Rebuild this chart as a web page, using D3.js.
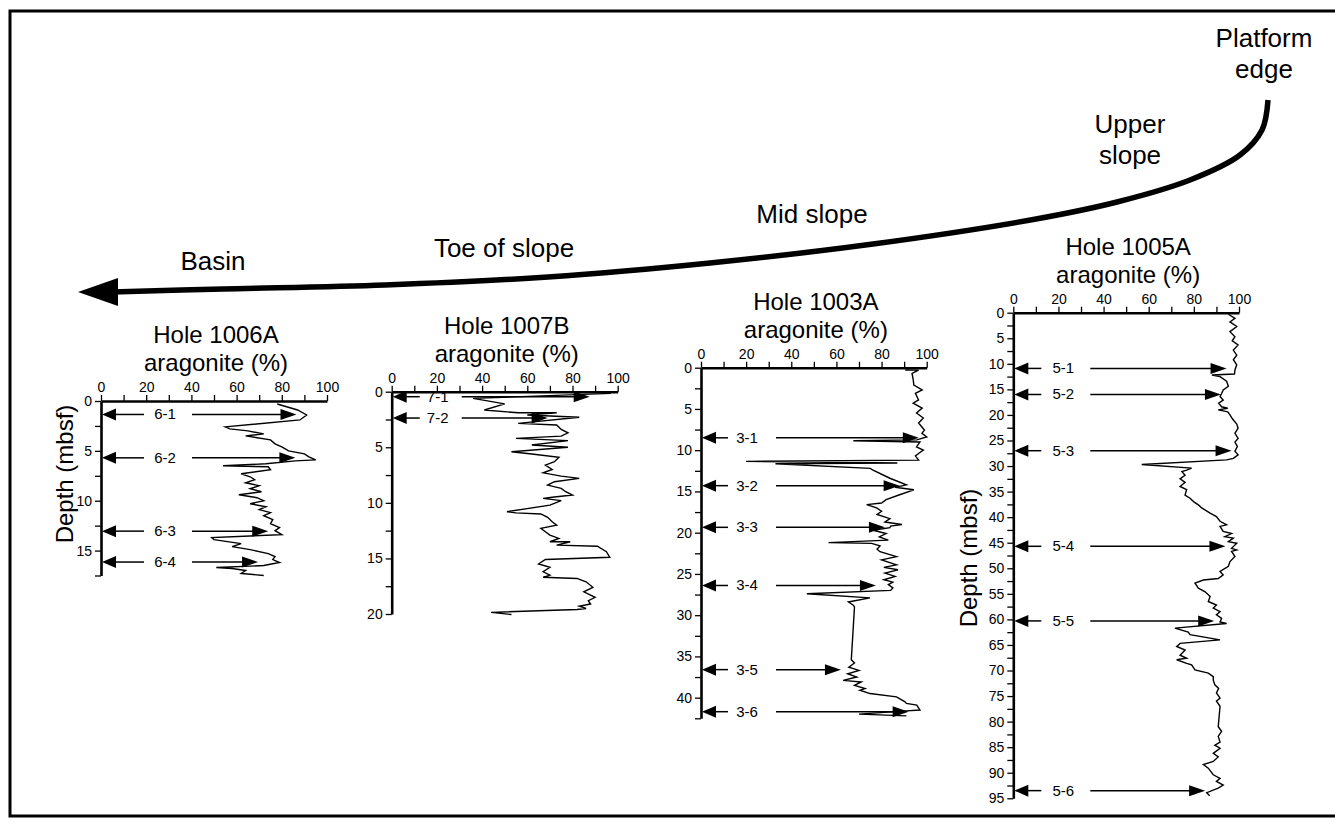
<!DOCTYPE html>
<html>
<head>
<meta charset="utf-8">
<script src="https://cdn.jsdelivr.net/npm/d3@7"></script>
<style>
  body { margin: 0; background: #fff; }
  svg { display: block; font-family: "Liberation Sans", Arial, Helvetica, sans-serif; }
</style>
</head>
<body>
<div id="chart"></div>
<script>
// each row: [depth (mbsf), aragonite (%)]
const hole1006A = [[0.3,78],[0.9,87],[1.4,91],[1.9,88],[2.6,55],[2.8,57],[3.0,65],[3.3,72],[3.5,64],[3.9,75],[4.3,77],[4.6,80],[5.0,83],[5.3,90],[5.6,92],[5.9,95],[6.0,86],[6.3,73],[6.5,54],[6.6,74],[6.9,75],[7.3,62],[7.6,66],[7.9,68],[8.2,64],[8.5,70],[8.8,66],[9.1,71],[9.4,61],[9.7,69],[10.0,72],[10.3,66],[10.6,73],[10.9,70],[11.2,75],[11.5,72],[11.9,76],[12.3,75],[12.7,79],[13.0,77],[13.4,80],[13.7,49],[13.9,50],[14.3,62],[14.6,58],[14.9,66],[15.3,74],[15.6,77],[15.9,76],[16.2,79],[16.5,72],[16.7,51],[16.8,58],[17.0,64],[17.3,62],[17.5,72]]

const hole1007B = [[0.15,97],[0.6,36],[1.1,50],[1.65,41],[1.9,56],[1.9,73],[2.1,60],[2.3,83],[2.85,56],[3.0,73],[3.4,75],[3.7,78],[4.0,75],[4.2,55],[4.4,78],[4.8,62],[5.0,78],[5.4,53],[5.6,62],[5.9,74],[6.3,72],[6.6,68],[7.0,71],[7.3,67],[7.6,75],[7.8,83],[8.1,72],[8.4,69],[8.7,75],[9.0,77],[9.3,80],[9.5,71],[9.6,67],[9.8,75],[10.2,70],[10.8,51],[10.9,55],[11.0,66],[11.3,69],[11.7,71],[12.0,73],[12.3,66],[12.6,68],[12.9,70],[13.2,74],[13.5,70],[13.5,79],[13.8,73],[13.9,91],[14.4,95],[14.9,96.5],[15.1,68],[15.5,65],[15.8,70],[16.2,67],[16.5,70],[16.7,67],[16.8,82],[17.1,86],[17.6,89],[18.0,85],[18.5,90],[18.8,87],[19.1,88],[19.3,83],[19.5,86],[19.6,82],[19.85,44],[20.05,53]]

const hole1003A = [[0.28,90.5],[0.3,96.4],[0.7,93.5],[1.4,94],[2.1,94.3],[2.7,98],[3.1,95],[3.9,96.4],[4.3,94],[4.9,98],[5.5,95.5],[6.1,98.5],[6.7,96.4],[7.55,99],[7.95,97.9],[8.4,100],[8.75,95.6],[8.85,67.5],[9.0,97],[9.6,95.5],[10.0,98.5],[10.4,96.4],[10.7,95],[11.2,96.4],[11.35,20],[11.55,87],[11.65,33],[12.2,75],[12.4,76],[13.4,83.7],[14.2,91],[14.5,86],[14.8,94.3],[15.4,88],[16.0,82],[16.4,80],[16.6,73.4],[17.0,77.8],[17.4,80],[17.8,78],[18.3,83.7],[18.7,81.5],[19.0,89],[19.2,84],[19.4,83.7],[19.7,76.3],[20.1,82],[20.5,79],[20.9,83],[21.2,56.5],[21.3,75.6],[21.6,79.3],[22.0,78],[22.3,79.3],[22.9,86.6],[23.3,80],[23.9,86.6],[24.2,81],[24.5,87.3],[24.9,81.5],[25.3,86],[25.7,81],[26.0,85],[26.3,83],[26.7,85],[27.0,84],[27.4,46.9],[27.9,74.9],[28.4,65.3],[28.8,67.5],[29.0,68],[35.4,66.6],[35.8,68],[36.3,65.5],[36.7,70],[37.1,65],[37.5,69],[37.9,63],[38.1,71],[38.5,68],[38.9,72.7],[39.1,70.4],[39.5,74.9],[39.9,86.6],[40.5,90.4],[40.7,91],[40.9,95.6],[41.5,97],[41.6,91],[42.0,70],[42.2,91]]

const hole1005A = [[0.3,95.3],[1.1,98.2],[1.8,96],[2.7,99],[3.7,96],[4.7,98.2],[5.5,97],[6.3,99.6],[7.3,97.5],[8.3,99],[9.2,97.5],[10.2,99],[11.2,98.2],[12.0,98],[12.2,88],[12.5,91.6],[13.4,94.5],[14.4,95.3],[15.1,93],[15.8,92.3],[16.4,91.6],[17.1,93],[17.7,91],[18.4,92.3],[18.7,95],[19.0,90.8],[19.4,95],[20.0,96],[20.7,97],[21.8,99],[22.6,99.6],[23.6,98.2],[24.6,99.6],[25.3,98.2],[26.2,99.3],[27.1,98.2],[27.8,99.6],[28.5,97.5],[28.8,94.5],[29.7,56.9],[30.4,79],[30.8,76.8],[31.1,74.7],[31.8,76.1],[32.5,73.9],[33.2,76.1],[34.0,73.9],[34.6,76.8],[35.7,76.1],[36.3,78.3],[37.0,80],[37.6,82],[38.2,83.5],[39.2,87.2],[39.9,90],[40.8,91.6],[41.5,94.5],[41.8,91.6],[42.8,93],[43.2,96.7],[43.8,93.7],[44.1,97.5],[44.8,95.3],[45.1,99],[46.1,96.7],[46.4,99],[46.7,96.7],[47.7,98.2],[48.7,96],[49.6,95.3],[50.6,91.6],[51.3,93],[52.0,90.8],[52.3,84.2],[52.9,80.5],[53.9,82],[54.6,85],[55.5,87.2],[56.5,86.4],[57.2,90],[57.8,88.6],[58.5,91.6],[59.1,90],[59.8,92.3],[60.5,91.6],[60.8,94.5],[61.7,71.6],[62.5,77.5],[63.0,78.3],[64.0,91.6],[64.7,73.9],[65.3,72.4],[66.0,76.1],[67.0,73.9],[67.6,76.8],[67.9,72.4],[68.6,76.8],[68.9,79],[69.9,80.5],[70.5,86.4],[71.2,88.6],[71.9,88.6],[72.8,89.3],[73.5,91],[74.4,90],[75.4,91.6],[76.0,90],[77.0,91.6],[81.0,90.8],[81.9,92.3],[82.9,90.8],[84.0,91.6],[84.6,89.3],[85.2,91.6],[86.2,88.6],[86.9,90.8],[87.8,88.6],[88.4,84.2],[89.1,86.4],[90.4,88.6],[91.1,91.6],[91.7,90],[92.4,93],[93.0,90.8],[93.9,85.7],[94.5,87]]

// sample markers: [label, depth, aragonite % the arrow points at]
const samples1006A = [["6-1",1.35,86.5],["6-2",5.7,86],["6-3",13.05,74],["6-4",16.15,69.5]]
const samples1007B = [["7-1",0.45,87.6],["7-2",2.37,69]]
const samples1003A = [["3-1",8.5,96.5],["3-2",14.3,88],["3-3",19.35,81.5],["3-4",26.4,77.5],["3-5",36.6,62],["3-6",41.7,92]]
const samples1005A = [["5-1",10.9,94.5],["5-2",16,92],["5-3",27,96.7],["5-4",45.7,94],["5-5",60.3,89],["5-6",93.5,85]]

const xTicks = d3.range(0, 101, 10)

// environment labels along the transect arrow
const zoneLabels = [["Platform",1264,47],["edge",1264,78],["Upper",1130,133],["slope",1130,164],["Mid slope",812,223],["Toe of slope",504,257],["Basin",213,270]]
const transectPath = [[1268,100],[1262,130],[1240,155],[1190,180],[1117,202],[1036,219],[873,244],[710,263],[548,277],[385,285],[223,289],[112,292]]

// panel layout (px)
const panels = [
  { hole: "Hole 1006A", data: hole1006A, samples: samples1006A, maxDepth: 17.5,
    x0: 101, x1: 327, y0: 401, y1: 575.5, tail: 43, txt: 64, start: 91, depthLabel: [73, 474] },
  { hole: "Hole 1007B", data: hole1007B, samples: samples1007B, maxDepth: 20,
    x0: 391.7, x1: 617.7, y0: 391.7, y1: 614, tail: 28, txt: 46, start: 70 },
  { hole: "Hole 1003A", data: hole1003A, samples: samples1003A, maxDepth: 42.5,
    x0: 701, x1: 926.7, y0: 367.7, y1: 718.3, tail: 27, txt: 46, start: 75 },
  { hole: "Hole 1005A", data: hole1005A, samples: samples1005A, maxDepth: 95,
    x0: 1013.3, x1: 1239, y0: 312.7, y1: 798.3, tail: 28, txt: 50, start: 77, depthLabel: [977, 558] }
]

const W = 1335, H = 828

const svg = d3.select('#chart')
  .append('svg')
    .attr('width', W)
    .attr('height', H)

// frame (right side runs off the page)
svg.append('rect')
  .attr('x', 10)
  .attr('y', 11)
  .attr('width', 1345)
  .attr('height', 805)
  .style('fill', 'none')
  .style('stroke', '#000')
  .style('stroke-width', 3)

// transect arrow
svg.append('path')
  .attr('d', d3.line().curve(d3.curveCatmullRom)(transectPath))
  .style('fill', 'none')
  .style('stroke', '#000')
  .style('stroke-width', 5.5)
svg.append('path')
  .attr('d', 'M78,292 L118,278 L118,306 Z')
  .style('fill', '#000')

svg.append('g')
  .selectAll('text')
  .data(zoneLabels)
  .enter()
  .append('text')
    .attr('x', d => d[1])
    .attr('y', d => d[2])
    .attr('text-anchor', 'middle')
    .style('font-size', '26px')
    .text(d => d[0])

function arrowHead(g, tipX, y, dir, len, half) {
  g.append('path')
    .attr('d', `M${tipX},${y} L${tipX - dir * len},${y - half} L${tipX - dir * len},${y + half} Z`)
    .style('fill', '#000')
}

panels.forEach(p => {
  const x = d3.scaleLinear().domain([0, 100]).range([p.x0, p.x1])
  const y = d3.scaleLinear().domain([0, p.maxDepth]).range([p.y0, p.y1])
  const g = svg.append('g')
  const mid = (p.x0 + p.x1) / 2 + 2

  g.append('text')
    .attr('x', mid).attr('y', p.y0 - 58)
    .attr('text-anchor', 'middle')
    .style('font-size', '24px')
    .text(p.hole)
  g.append('text')
    .attr('x', mid).attr('y', p.y0 - 30)
    .attr('text-anchor', 'middle')
    .style('font-size', '24px')
    .text('aragonite (%)')

  const xAxis = g.append('g')
    .attr('transform', `translate(0,${p.y0})`)
    .call(d3.axisTop(x).tickValues(xTicks).tickSize(6).tickSizeOuter(0).tickPadding(3)
      .tickFormat(d => d % 20 === 0 ? d : ''))
  const yAxis = g.append('g')
    .attr('transform', `translate(${p.x0},0)`)
    .call(d3.axisLeft(y).tickValues(d3.range(0, p.maxDepth + 0.01, 2.5)).tickSize(6).tickSizeOuter(0).tickPadding(3)
      .tickFormat(d => d % 5 === 0 ? d : ''))

  ;[xAxis, yAxis].forEach(a => {
    a.select('.domain').style('stroke-width', 2.6).attr('stroke', '#000')
    a.selectAll('.tick line').style('stroke-width', 1.3).attr('stroke', '#000')
    a.selectAll('.tick text').style('font-size', '14px').style('font-family', '"Liberation Sans", Arial, sans-serif').attr('fill', '#000')
  })

  // aragonite curve
  g.append('path')
    .datum(p.data)
    .attr('d', d3.line().x(d => x(d[1])).y(d => y(d[0])))
    .style('fill', 'none')
    .style('stroke', '#000')
    .style('stroke-width', 1.4)

  // sample arrows
  const s = g.selectAll('.sample')
    .data(p.samples)
    .enter()
    .append('g')
      .attr('class', 'sample')
  s.each(function (d) {
    const sg = d3.select(this)
    const yy = y(d[1])
    sg.append('line')
      .attr('x1', p.x0 + 12).attr('x2', p.x0 + p.tail)
      .attr('y1', yy).attr('y2', yy)
      .style('stroke', '#000').style('stroke-width', 1.5)
    arrowHead(sg, p.x0 + 1, yy, -1, 14, 6)
    sg.append('text')
      .attr('x', p.x0 + p.txt).attr('y', yy + 5)
      .attr('text-anchor', 'middle')
      .style('font-size', '15px')
      .text(d[0])
    sg.append('line')
      .attr('x1', p.x0 + p.start).attr('x2', x(d[2]) - 10)
      .attr('y1', yy).attr('y2', yy)
      .style('stroke', '#000').style('stroke-width', 1.5)
    arrowHead(sg, x(d[2]), yy, 1, 16, 5.5)
  })

  if (p.depthLabel) {
    g.append('text')
      .attr('transform', `translate(${p.depthLabel[0]},${p.depthLabel[1]}) rotate(-90)`)
      .attr('text-anchor', 'middle')
      .style('font-size', '24px')
      .text('Depth (mbsf)')
  }
})
</script>
</body>
</html>
